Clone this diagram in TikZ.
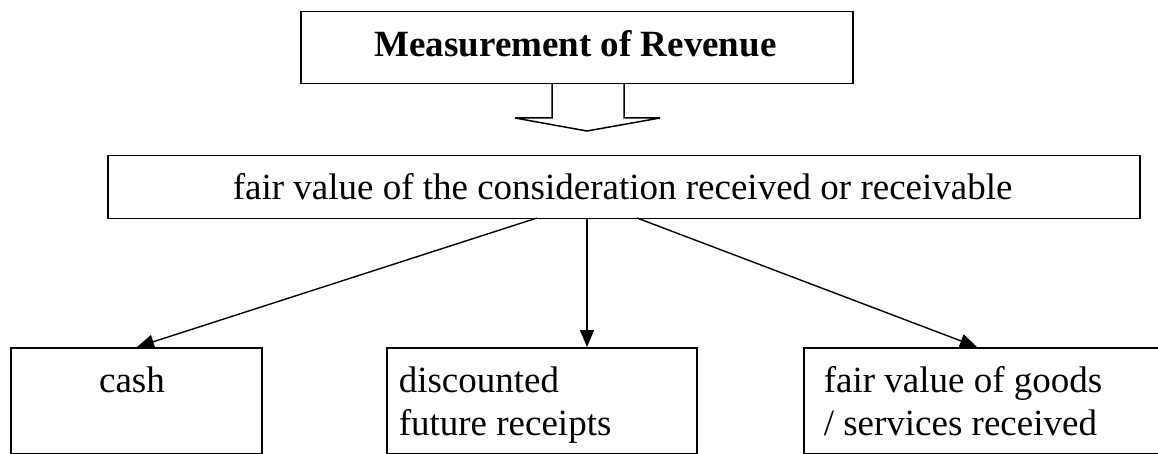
\documentclass[tikz,border=0pt]{standalone}
\usepackage{fontspec}
\setmainfont{Liberation Serif}
\usetikzlibrary{arrows.meta}
\begin{document}
\begin{tikzpicture}[x=1pt, y=-1pt, line width=1.5pt,
  box/.style={draw, rectangle, inner sep=0pt, anchor=north west},
  label/.style={inner sep=0pt, anchor=base west, font=\fontsize{37}{43}\selectfont},
  multi/.style={label, align=left},
  conn/.style={-{Triangle[length=17pt,width=14pt]}, line width=1.4pt}]
\useasboundingbox (0,0) rectangle (1158,454);
\clip (0,0) rectangle (1158,454);

% title box and its hollow block arrow
\node[box, minimum width=552pt, minimum height=72pt] (title) at (300,11) {};
\node[label, anchor=base] (titletext) at (575.5,57) {\textbf{Measurement of Revenue}};
\coordinate (sl) at (552,83);
\coordinate (sr) at (624,83);
\draw[line join=miter] (sl) -- (552,118) -- (515,118) -- (587,131) -- (660,118) -- (624,118) -- (sr);

% main measurement box
\node[box, minimum width=1032pt, minimum height=63pt] (fv) at (107,155) {};
\node[label] (fvtext) at (232,200) {fair value of the consideration received or receivable};

% the three forms of consideration (multi-line labels sit on their last baseline)
\node[box, minimum width=251pt, minimum height=106pt] (cash) at (10,347) {};
\node[label, anchor=base] (cashtext) at (132,392) {cash};

\node[box, minimum width=310pt, minimum height=106pt] (disc) at (386,347) {};
\node[multi] (disctext) at (398,435) {discounted\\future receipts};

\node[box, minimum width=370pt, minimum height=106pt] (goods) at (803,347) {};
\node[multi] (goodstext) at (823,435) {fair value of goods\\/ services received};

% connectors
\coordinate (fl) at (537,218);
\coordinate (fm) at (587,218);
\coordinate (fr) at (637,218);
\draw[conn] (fl) -- (137,347);
\draw[conn] (fm) -- (disc.north west -| fm);
\draw[conn] (fr) -- (977,347);
\end{tikzpicture}
\end{document}
